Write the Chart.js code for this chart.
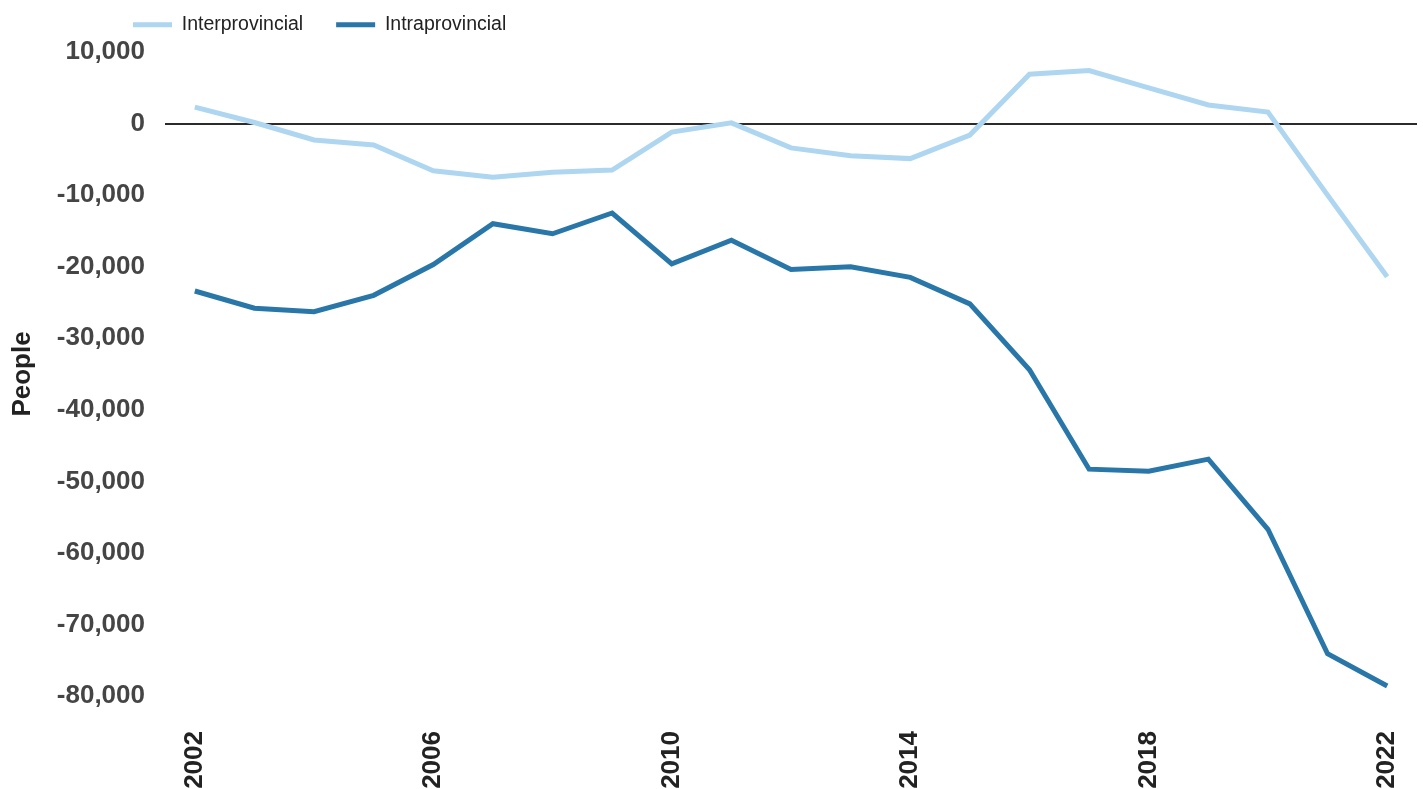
<!DOCTYPE html>
<html>
<head>
<meta charset="utf-8">
<script src="https://cdn.jsdelivr.net/npm/chart.js@4"></script>
<style>
  html, body { margin: 0; padding: 0; background: #fff; overflow: hidden; }
  canvas { display: block; }
</style>
</head>
<body>
<canvas id="lineChart" width="1423" height="789"></canvas>
<script>
const years = ["2002", "2003", "2004", "2005", "2006", "2007", "2008", "2009", "2010", "2011",
  "2012", "2013", "2014", "2015", "2016", "2017", "2018", "2019", "2020", "2021", "2022"];
const interprovincial = [2300, 150, -2300, -3000, -6600, -7500, -6800, -6500, -1200, 100,
  -3400, -4500, -4900, -1600, 6900, 7400, 5000, 2600, 1600, -10000, -21400];
const intraprovincial = [-23400, -25800, -26300, -24000, -19700, -14000, -15400, -12500, -19600, -16300,
  -20400, -20000, -21500, -25200, -34400, -48300, -48600, -46900, -56700, -74100, -78600];
const yTicks = [10000, 0, -10000, -20000, -30000, -40000, -50000, -60000, -70000, -80000];

document.addEventListener("DOMContentLoaded", function () {
  const font = "'Liberation Sans', Arial, sans-serif";

  // move the legend to the left, like the original
  const legendNudge = {
    id: "legendNudge",
    afterLayout(chart) {
      chart.legend.left = 100;
      chart.legend.top = -18;
    },
  };

  const dataLine = {
    labels: years,
    datasets: [
      {
        label: "Interprovincial",
        data: interprovincial,
        borderColor: "#AED6F1",
        backgroundColor: "#AED6F1",
        borderWidth: 5,
        pointRadius: 0,
        tension: 0,
      },
      {
        label: "Intraprovincial",
        data: intraprovincial,
        borderColor: "#2976A9",
        backgroundColor: "#2976A9",
        borderWidth: 5,
        pointRadius: 0,
        tension: 0,
      },
    ],
  };

  const configLine = {
    type: "line",
    data: dataLine,
    plugins: [legendNudge],
    options: {
      responsive: false,
      animation: false,
      layout: { padding: { right: 6 } },
      plugins: {
        tooltip: { enabled: false },
        legend: {
          position: "top",
          align: "start",
          maxHeight: 52,
          labels: {
            usePointStyle: true,
            pointStyle: "line",
            pointStyleWidth: 39,
            padding: 33,
            color: "#222",
            font: { family: font, size: 19.5 },
          },
        },
      },
      scales: {
        x: {
          offset: true,
          grid: { display: false, drawTicks: false },
          border: { display: false },
          afterFit: function (axis) {
            axis.height = 93;
            axis.paddingRight = 0;
          },
          ticks: {
            autoSkip: false,
            minRotation: 90,
            maxRotation: 90,
            padding: 35,
            color: "#222",
            font: { family: font, size: 26, weight: "bold" },
            callback: function (value, index) {
              return index % 4 === 0 ? years[index] : "";
            },
          },
        },
        y: {
          min: -80000,
          max: 10000,
          afterBuildTicks: function (axis) {
            axis.ticks = yTicks.map((v) => ({ value: v }));
          },
          afterFit: function (axis) {
            axis.width = 165;
          },
          grid: {
            drawTicks: false,
            color: (ctx) => (ctx.tick && ctx.tick.value === 0 ? "#2b2b2b" : "rgba(0,0,0,0)"),
            lineWidth: 2,
          },
          border: { display: false },
          ticks: {
            padding: 20,
            color: "#454545",
            font: { family: font, size: 26, weight: "bold" },
            callback: (v) => v.toLocaleString("en-US"),
          },
          title: {
            display: true,
            text: "People",
            color: "#222",
            padding: { top: 7, bottom: 0 },
            font: { family: font, size: 26, weight: "bold" },
          },
        },
      },
    },
  };

  new Chart(document.getElementById("lineChart"), configLine);
});
</script>
</body>
</html>
